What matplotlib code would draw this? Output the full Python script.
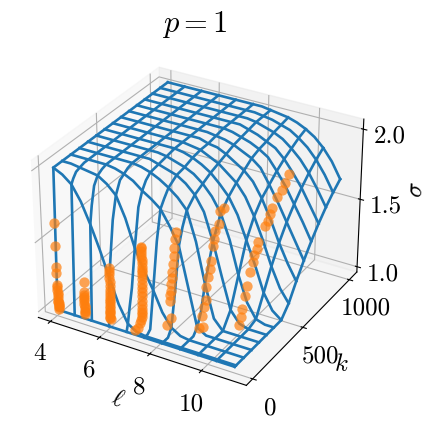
#! /usr/bin/env python3
import matplotlib
matplotlib.use('Agg')
import matplotlib.pyplot as plt
import numpy as np

plt.rcParams['font.family'] = 'cmr10'
plt.rcParams['mathtext.fontset'] = 'cm'
plt.rcParams['axes.unicode_minus'] = False
plt.rcParams['axes.formatter.use_mathtext'] = True
################################################################################
# wireframe surface
ell_grid = [4.0, 4.35, 4.7, 5.05, 5.4, 5.75, 6.1, 6.45, 6.8, 7.15, 7.5, 7.85,
            8.2, 8.55, 8.9, 9.25, 9.6, 9.95, 10.3, 10.65, 11.0]
k_grid = [5, 18, 35, 60, 92, 130, 166, 200, 240, 314, 388, 462, 536, 610, 684,
          758, 832, 906, 980, 1054]
k_rows = [5, 18, 92, 166, 240, 314, 388, 462, 536, 610, 684, 758, 832, 906,
          980, 1054]
sigma_grid = [
    [1.00, 1.00, 1.00, 1.00, 1.00, 1.00, 1.00, 1.00, 1.00, 1.00, 1.00, 1.00, 1.00, 1.00, 1.00, 1.00, 1.00, 1.00, 1.00, 1.00, 1.00],
    [2.00, 1.97, 1.92, 1.82, 1.68, 1.52, 1.34, 1.17, 1.05, 1.01, 1.00, 1.00, 1.00, 1.00, 1.00, 1.00, 1.00, 1.00, 1.00, 1.00, 1.00],
    [2.00, 1.98, 1.95, 1.89, 1.80, 1.67, 1.50, 1.31, 1.15, 1.05, 1.00, 1.00, 1.00, 1.00, 1.00, 1.00, 1.00, 1.00, 1.00, 1.00, 1.00],
    [2.00, 1.99, 1.98, 1.96, 1.92, 1.84, 1.72, 1.52, 1.28, 1.10, 1.02, 1.00, 1.00, 1.00, 1.00, 1.00, 1.00, 1.00, 1.00, 1.00, 1.00],
    [2.00, 2.00, 1.99, 1.98, 1.97, 1.93, 1.87, 1.73, 1.54, 1.40, 1.28, 1.14, 1.05, 1.01, 1.00, 1.00, 1.00, 1.00, 1.00, 1.00, 1.00],
    [2.00, 2.00, 2.00, 2.00, 1.99, 1.98, 1.95, 1.90, 1.80, 1.71, 1.60, 1.46, 1.30, 1.12, 1.00, 1.00, 1.00, 1.00, 1.00, 1.00, 1.00],
    [2.00, 2.00, 2.00, 2.00, 2.00, 1.99, 1.97, 1.94, 1.89, 1.85, 1.80, 1.70, 1.58, 1.31, 1.04, 1.00, 1.00, 1.00, 1.00, 1.00, 1.00],
    [2.00, 2.00, 2.00, 2.00, 2.00, 2.00, 1.99, 1.97, 1.94, 1.90, 1.85, 1.79, 1.69, 1.44, 1.12, 1.00, 1.00, 1.00, 1.00, 1.00, 1.00],
    [2.00, 2.00, 2.00, 2.00, 2.00, 2.00, 2.00, 1.99, 1.97, 1.94, 1.90, 1.85, 1.78, 1.58, 1.30, 1.07, 1.00, 1.00, 1.00, 1.00, 1.00],
    [2.00, 2.00, 2.00, 2.00, 2.00, 2.00, 2.00, 2.00, 1.98, 1.96, 1.94, 1.90, 1.84, 1.74, 1.55, 1.32, 1.10, 1.02, 1.00, 1.00, 1.00],
    [2.00, 2.00, 2.00, 2.00, 2.00, 2.00, 2.00, 2.00, 1.99, 1.97, 1.95, 1.92, 1.87, 1.80, 1.70, 1.53, 1.30, 1.12, 1.02, 1.00, 1.00],
    [2.00, 2.00, 2.00, 2.00, 2.00, 2.00, 2.00, 2.00, 2.00, 1.99, 1.97, 1.94, 1.90, 1.84, 1.77, 1.66, 1.50, 1.34, 1.16, 1.05, 1.00],
    [2.00, 2.00, 2.00, 2.00, 2.00, 2.00, 2.00, 2.00, 2.00, 1.99, 1.98, 1.95, 1.92, 1.87, 1.82, 1.74, 1.62, 1.47, 1.30, 1.16, 1.07],
    [2.00, 2.00, 2.00, 2.00, 2.00, 2.00, 2.00, 2.00, 2.00, 2.00, 1.98, 1.97, 1.94, 1.90, 1.86, 1.80, 1.70, 1.57, 1.42, 1.29, 1.18],
    [2.00, 2.00, 2.00, 2.00, 2.00, 2.00, 2.00, 2.00, 2.00, 2.00, 1.99, 1.98, 1.96, 1.93, 1.90, 1.85, 1.75, 1.64, 1.52, 1.40, 1.28],
    [2.00, 2.00, 2.00, 2.00, 2.00, 2.00, 2.00, 2.00, 2.00, 2.00, 2.00, 1.99, 1.97, 1.95, 1.92, 1.88, 1.80, 1.71, 1.60, 1.49, 1.37],
    [2.00, 2.00, 2.00, 2.00, 2.00, 2.00, 2.00, 2.00, 2.00, 2.00, 2.00, 2.00, 1.98, 1.96, 1.93, 1.90, 1.84, 1.76, 1.67, 1.56, 1.45],
    [2.00, 2.00, 2.00, 2.00, 2.00, 2.00, 2.00, 2.00, 2.00, 2.00, 2.00, 2.00, 1.99, 1.97, 1.95, 1.92, 1.87, 1.81, 1.73, 1.63, 1.52],
    [2.00, 2.00, 2.00, 2.00, 2.00, 2.00, 2.00, 2.00, 2.00, 2.00, 2.00, 2.00, 1.99, 1.98, 1.96, 1.94, 1.90, 1.85, 1.78, 1.69, 1.58],
    [2.00, 2.00, 2.00, 2.00, 2.00, 2.00, 2.00, 2.00, 2.00, 2.00, 2.00, 2.00, 1.99, 1.98, 1.97, 1.95, 1.92, 1.88, 1.82, 1.74, 1.63],
]
ell_lines = [4.0, 4.7, 5.4, 6.1, 6.8, 7.5, 8.2, 8.9, 9.6, 10.3, 11.0]
################################################################################
# orange points, one list per ell
points_k = {
    4: [2, 4, 6, 6, 10, 10, 10, 12, 12, 12, 14, 14, 14, 15, 15, 15, 15],
    5: [30, 30, 30, 30, 30, 30, 30, 30, 30, 30, 30, 30],
    6: [40, 40, 40, 40, 40, 40, 40, 40, 40, 40, 40, 40, 40, 40, 40, 40, 40, 40,
        40, 40],
    7: [40, 60, 85, 95, 100, 100, 100, 100, 100, 100, 105, 105, 105, 105, 105,
        105, 105, 105, 105, 105, 105, 105, 105, 105, 105, 105],
    8: [100, 140, 125, 130, 135, 140, 145, 150, 155, 165, 170, 175, 190],
    9: [162, 193, 188, 210, 225, 229, 246, 260, 272, 286, 300, 312, 342, 358,
        389],
    10: [301, 318, 326, 352, 369, 395, 424, 440, 461, 479, 538, 567, 590, 615,
         654, 705, 735, 773],
}
points_sigma = {
    4: [1.63, 1.46, 1.31, 1.27, 1.18, 1.16, 1.14, 1.12, 1.10, 1.08, 1.06, 1.05,
        1.04, 1.03, 1.02, 1.01, 1.00],
    5: [1.24, 1.17, 1.15, 1.13, 1.12, 1.10, 1.08, 1.07, 1.05, 1.03, 1.02, 1.01],
    6: [1.39, 1.37, 1.35, 1.32, 1.29, 1.26, 1.23, 1.21, 1.19, 1.17, 1.15, 1.14,
        1.12, 1.10, 1.08, 1.07, 1.06, 1.04, 1.03, 1.02],
    7: [1.00, 1.00, 1.02, 1.03, 1.05, 1.07, 1.09, 1.11, 1.14, 1.17, 1.20, 1.23,
        1.26, 1.29, 1.32, 1.35, 1.37, 1.39, 1.41, 1.44, 1.46, 1.48, 1.50, 1.52,
        1.54, 1.55],
    8: [1.05, 1.07, 1.21, 1.25, 1.27, 1.32, 1.36, 1.40, 1.45, 1.50, 1.55, 1.61,
        1.65],
    9: [1.04, 1.03, 1.11, 1.16, 1.20, 1.29, 1.35, 1.40, 1.45, 1.54, 1.58, 1.63,
        1.66, 1.74, 1.74],
    10: [1.02, 1.07, 1.12, 1.20, 1.26, 1.34, 1.39, 1.43, 1.46, 1.50, 1.57, 1.59,
         1.62, 1.65, 1.70, 1.72, 1.75, 1.79],
}
################################################################################
fig = plt.figure(figsize=(4.36, 4.28), dpi=100)
ax = fig.add_axes([0.016, 0.045, 0.865, 0.865], projection='3d')
ax.view_init(elev=30, azim=-60)

sigma_grid = np.array(sigma_grid)
for j, ell in enumerate(ell_grid):
    if ell in ell_lines:
        ax.plot([ell] * len(k_grid), k_grid, sigma_grid[:, j], color='C0', lw=1.9)
for i, k in enumerate(k_grid):
    if k in k_rows:
        ax.plot(ell_grid, [k] * len(ell_grid), sigma_grid[i], color='C0', lw=1.9)

for ell in points_k:
    ax.scatter([ell] * len(points_k[ell]), points_k[ell], points_sigma[ell],
               color='C1', s=55, alpha=0.7, depthshade=False, lw=0)

ax.set_xlim(3.5, 11.7)
ax.set_ylim(-60, 1085)
ax.set_zlim(0.96, 2.07)
ax.set_xticks([4, 6, 8, 10])
ax.set_yticks([0, 500, 1000])
ax.set_zticks([1.0, 1.5, 2.0])
ax.set_xticklabels(['4', '6', '8', '10'], fontsize=18)
ax.set_yticklabels(['0', '500', '1000'], fontsize=18)
ax.set_zticklabels(['1.0', '1.5', '2.0'], fontsize=18)
ax.set_xlabel(r'$\ell$', fontsize=18)
ax.set_ylabel(r'$k$', fontsize=18)
ax.set_zlabel(r'$\sigma$', fontsize=18)
fig.text(0.447, 0.942, r'$p=1$', fontsize=22, ha='center', va='center')

fig.savefig('out.png', dpi=100)
